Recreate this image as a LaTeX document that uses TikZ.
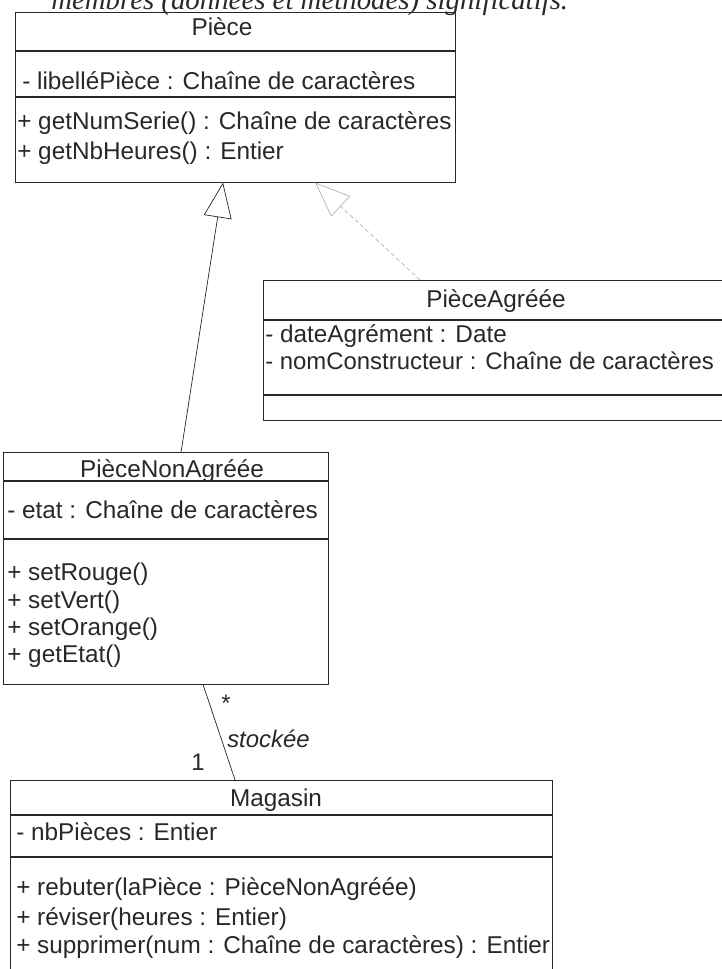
\documentclass[tikz,border=0pt]{standalone}
\usepackage{fontspec}
\setmainfont{Liberation Sans}
\newfontfamily\seriffont{Liberation Serif}
\usetikzlibrary{arrows.meta, positioning}
\definecolor{inkgray}{RGB}{40,40,40}

\begin{document}
\begin{tikzpicture}[x=0.025cm, y=-0.025cm,
    compart/.style={rectangle, draw=inkgray, line width=0.6pt, anchor=north west, inner sep=0pt},
    member/.style={anchor=base west, inner sep=0pt, text=inkgray, font=\fontsize{17.3}{21}\selectfont},
    classname/.style={member, anchor=base},
    inherit/.style={draw=inkgray, line width=0.5pt, -{Triangle[open, length=0.875cm, width=0.7cm]}},
    realize/.style={inherit, draw=gray!60, dash pattern=on 3pt off 2pt},
    assoc/.style={draw=inkgray, line width=0.5pt},
    role/.style={member, anchor=base, font=\fontsize{17}{20}\selectfont}
]
    \useasboundingbox (0,0) rectangle (722,969);
    \clip (0,0) rectangle (722,969);

    % cut-off heading line
    \node[anchor=base west, inner sep=0pt, text=inkgray, font=\seriffont\fontsize{20.5}{24}\selectfont\itshape] (intro) at (51,9) {membres (données et méthodes) significatifs.};

    % Piece
    \node[compart, minimum width=11cm, minimum height=0.95cm] (piece) at (15,12) {};
    \node[compart, minimum width=11cm, minimum height=1.125cm] (pieceattr) at (piece.south west) {};
    \node[compart, minimum width=11cm, minimum height=2.125cm] (piecemeth) at (pieceattr.south west) {};
    \node[classname] (piecename) at (222,35) {Pièce};
    \node[member] (libelle) at (22,89) {- libelléPièce : Chaîne de caractères};
    \node[member] (getnum) at (17,129) {+ getNumSerie() : Chaîne de caractères};
    \node[member] (getnb) at (17,159) {+ getNbHeures() : Entier};

    % PieceAgreee
    \node[compart, minimum width=11.675cm, minimum height=0.975cm] (agree) at (263,280) {};
    \node[compart, minimum width=11.675cm, minimum height=1.85cm] (agreeattr) at (agree.south west) {};
    \node[compart, minimum width=11.675cm, minimum height=0.625cm] (agreemeth) at (agreeattr.south west) {};
    \node[classname] (agreename) at (496,307) {PièceAgréée};
    \node[member] (dateagr) at (265,342) {- dateAgrément : Date};
    \node[member, font=\fontsize{17}{21}\selectfont] (nomcons) at (265,369) {- nomConstructeur : Chaîne de caractères};

    % PieceNonAgreee
    \node[compart, minimum width=8.125cm, minimum height=0.7cm] (nonagree) at (3,452) {};
    \node[compart, minimum width=8.125cm, minimum height=1.425cm] (nonagreeattr) at (nonagree.south west) {};
    \node[compart, minimum width=8.125cm, minimum height=3.625cm] (nonagreemeth) at (nonagreeattr.south west) {};
    \node[classname] (nonagreename) at (172,477) {PièceNonAgréée};
    \node[member] (etat) at (7,518) {- etat : Chaîne de caractères};
    \node[member] (setrouge) at (7,580) {+ setRouge()};
    \node[member] (setvert) at (7,608) {+ setVert()};
    \node[member] (setorange) at (7,635) {+ setOrange()};
    \node[member] (getetat) at (7,662) {+ getEtat()};

    % Magasin
    \node[compart, minimum width=13.55cm, minimum height=0.85cm] (magasin) at (10,780) {};
    \node[compart, minimum width=13.55cm, minimum height=1.025cm] (magasinattr) at (magasin.south west) {};
    \node[compart, minimum width=13.55cm, minimum height=3.25cm] (magasinmeth) at (magasinattr.south west) {};
    \node[classname] (magasinname) at (276,806) {Magasin};
    \node[member] (nbpieces) at (16,840) {- nbPièces : Entier};
    \node[member] (rebuter) at (16,895) {+ rebuter(laPièce : PièceNonAgréée)};
    \node[member] (reviser) at (16,925) {+ réviser(heures : Entier)};
    \node[member] (supprimer) at (16,953) {+ supprimer(num : Chaîne de caractères) : Entier};

    % links
    \draw[inherit] ([xshift=4.45cm]nonagree.north west) -- ([xshift=5.2cm]piecemeth.south west);
    \draw[realize] ([xshift=3.925cm]agree.north west) -- ([xshift=7.5cm]piecemeth.south west);
    \draw[assoc] ([xshift=5cm]nonagreemeth.south west) -- ([xshift=5.625cm]magasin.north west);
    \node[role] (many) at (226,711) {*};
    \node[role, anchor=base west, font=\fontsize{17}{20}\selectfont\itshape] (stockee) at (227,747) {stockée};
    \node[role] (one) at (198,770) {1};
\end{tikzpicture}
\end{document}
